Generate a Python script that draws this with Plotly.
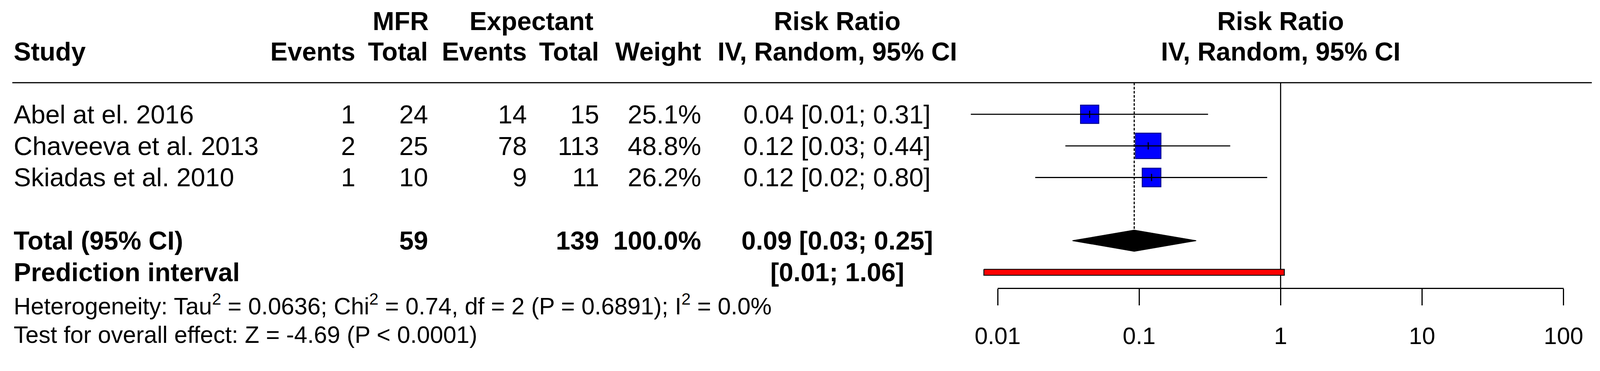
import math
import plotly.graph_objects as go

# ---------------- data ----------------
studies = ["Abel at el. 2016", "Chaveeva et al. 2013", "Skiadas et al. 2010"]
mfr_events = [1, 2, 1]
mfr_total = [24, 25, 10]
exp_events = [14, 78, 9]
exp_total = [15, 113, 11]
weight = [25.1, 48.8, 26.2]
rr = [0.0447, 0.1159, 0.1224]
rr_lo = [0.00646, 0.0301, 0.01843]
rr_hi = [0.307, 0.4405, 0.804]

overall = 0.0923
overall_lo = 0.0338
overall_hi = 0.253
pi_lo = 0.00799
pi_hi = 1.062
weight_total_label = "100.0%"

het_text = ("Heterogeneity: Tau<sup>2</sup> = 0.0636; Chi<sup>2</sup> = 0.74, "
            "df = 2 (P = 0.6891); I<sup>2</sup> = 0.0%")
test_text = "Test for overall effect: Z = -4.69 (P &lt; 0.0001)"

tick_vals = [0.01, 0.1, 1, 10, 100]
tick_text = ["0.01", "0.1", "1", "10", "100"]

# ---------------- layout constants ----------------
# The page is viewed through a window whose CSS width is 4096 px and the
# photograph is stretched to 4290 px; S converts target pixels to CSS pixels.
S = 4096 / 4290
OFF = 8                                  # default body margin of the page
W = 4096 - 2 * OFF
H = round(950 * S) - 2 * OFF
FONT = "Liberation Sans, Arial, Helvetica, sans-serif"
FS = 69.5 * S
FS_SMALL = 63.5 * S
LW = 3 * S


def P(p):
    """target picture pixel -> figure pixel"""
    return p * S - OFF


def L(v):
    """target length -> figure length"""
    return v * S


ROW0 = 306.5         # target pixel of the first study row
STEP = 84.75         # target pixels per row


def row_at(p_fig):
    return 1 + ((p_fig + OFF) / S - ROW0) / STEP


Y_TOP = row_at(0)
Y_BOT = row_at(H)

X_ONE = 3433.6       # target pixel of RR = 1
DEC = 379.3          # target pixels per decade
LOG_LEFT = ((0 + OFF) / S - X_ONE) / DEC
LOG_RIGHT = ((W + OFF) / S - X_ONE) / DEC

AXIS_T = 772         # target pixel of the RR axis line

# column positions (target pixels)
C_STUDY = 35
C_MFR_EV = 955
C_MFR_TOT = 1150
C_EXP_EV = 1415
C_EXP_TOT = 1609
C_WEIGHT = 1882
C_RR = 2245
C_EXPECTANT = 1425

study_rows = [1, 2, 3]
TOTAL_ROW = 5
PI_ROW = 6
HDR1 = -1.95
HDR2 = -0.98
AXIS_ROW = 1 + (AXIS_T - ROW0) / STEP

fig = go.Figure()

# ---------------- forest marks ----------------
SQ = 9.78 * S
fig.add_trace(go.Scatter(
    x=rr, y=study_rows, mode="markers", xaxis="x2", yaxis="y",
    marker=dict(symbol="square", size=[SQ * math.sqrt(w) for w in weight],
                color="#0000FF", opacity=1,
                line=dict(color="#00008B", width=2.5 * S)),
    hoverinfo="skip", showlegend=False, cliponaxis=False))

# CI lines
cx, cy = [], []
for lo, hi, r in zip(rr_lo, rr_hi, study_rows):
    cx += [lo, hi, None]
    cy += [r, r, None]
fig.add_trace(go.Scatter(x=cx, y=cy, mode="lines", xaxis="x2", yaxis="y",
                         line=dict(color="black", width=LW),
                         hoverinfo="skip", showlegend=False))

# small vertical tick at each estimate
tx, ty = [], []
for e, r in zip(rr, study_rows):
    tx += [e, e, None]
    ty += [r - 0.115, r + 0.115, None]
fig.add_trace(go.Scatter(x=tx, y=ty, mode="lines", xaxis="x2", yaxis="y",
                         line=dict(color="black", width=LW),
                         hoverinfo="skip", showlegend=False))

# reference line at RR = 1
fig.add_trace(go.Scatter(x=[1, 1], y=[0, AXIS_ROW], mode="lines",
                         xaxis="x2", yaxis="y",
                         line=dict(color="black", width=LW),
                         hoverinfo="skip", showlegend=False))

# dashed line at the overall estimate, then the diamond
DH = 28.5 / STEP
fig.add_trace(go.Scatter(x=[overall, overall], y=[0, TOTAL_ROW - DH], mode="lines",
                         xaxis="x2", yaxis="y",
                         line=dict(color="black", width=LW,
                                   dash=f"{L(7):.1f}px,{L(4):.1f}px"),
                         hoverinfo="skip", showlegend=False))
fig.add_trace(go.Scatter(
    x=[overall_lo, overall, overall_hi, overall, overall_lo],
    y=[TOTAL_ROW, TOTAL_ROW - DH, TOTAL_ROW, TOTAL_ROW + DH, TOTAL_ROW],
    mode="lines", fill="toself", fillcolor="black", xaxis="x2", yaxis="y",
    line=dict(color="black", width=2 * S), hoverinfo="skip", showlegend=False))

# prediction interval bar
PH = 8 / STEP
fig.add_trace(go.Scatter(
    x=[pi_lo, pi_hi, pi_hi, pi_lo, pi_lo],
    y=[PI_ROW - PH, PI_ROW - PH, PI_ROW + PH, PI_ROW + PH, PI_ROW - PH],
    mode="lines", fill="toself", fillcolor="#FF0000", xaxis="x2", yaxis="y",
    line=dict(color="black", width=2.5 * S), hoverinfo="skip", showlegend=False))

# invisible trace to anchor the visible RR axis
fig.add_trace(go.Scatter(x=[1], y=[0.5], mode="markers", xaxis="x3", yaxis="y2",
                         marker=dict(opacity=0), hoverinfo="skip", showlegend=False))

# ---------------- text ----------------
annotations = []


def ann(text, x_t, y, anchor="right", size=FS, bold=False):
    annotations.append(dict(
        text=f"<b>{text}</b>" if bold else text, x=P(x_t), y=y, xref="x", yref="y",
        xanchor=anchor, yanchor="middle", showarrow=False,
        font=dict(size=size, family=FONT, color="black")))


# headers
ann("MFR", C_MFR_TOT + 2, HDR1, "right", bold=True)
ann("Expectant", C_EXPECTANT, HDR1, "center", bold=True)
ann("Risk Ratio", C_RR, HDR1, "center", bold=True)
ann("Risk Ratio", X_ONE, HDR1, "center", bold=True)
ann("Study", C_STUDY, HDR2, "left", bold=True)
ann("Events", C_MFR_EV, HDR2, "right", bold=True)
ann("Total", C_MFR_TOT, HDR2, "right", bold=True)
ann("Events", C_EXP_EV, HDR2, "right", bold=True)
ann("Total", C_EXP_TOT, HDR2, "right", bold=True)
ann("Weight", C_WEIGHT, HDR2, "right", bold=True)
ann("IV, Random, 95% CI", C_RR, HDR2, "center", bold=True)
ann("IV, Random, 95% CI", X_ONE, HDR2, "center", bold=True)

# study rows
for i, r in enumerate(study_rows):
    ann(studies[i], C_STUDY, r, "left")
    ann(str(mfr_events[i]), C_MFR_EV, r)
    ann(str(mfr_total[i]), C_MFR_TOT, r)
    ann(str(exp_events[i]), C_EXP_EV, r)
    ann(str(exp_total[i]), C_EXP_TOT, r)
    ann(f"{weight[i]:.1f}%", C_WEIGHT, r)
    ann(f"{rr[i]:.2f} [{rr_lo[i]:.2f}; {rr_hi[i]:.2f}]", C_RR, r, "center")

# total row
ann("Total (95% CI)", C_STUDY, TOTAL_ROW, "left", bold=True)
ann(str(sum(mfr_total)), C_MFR_TOT, TOTAL_ROW, bold=True)
ann(str(sum(exp_total)), C_EXP_TOT, TOTAL_ROW, bold=True)
ann(weight_total_label, C_WEIGHT, TOTAL_ROW, bold=True)
ann(f"{overall:.2f} [{overall_lo:.2f}; {overall_hi:.2f}]", C_RR, TOTAL_ROW, "center", bold=True)

# prediction interval row
ann("Prediction interval", C_STUDY, PI_ROW, "left", bold=True)
ann(f"[{pi_lo:.2f}; {pi_hi:.2f}]", C_RR, PI_ROW, "center", bold=True)

# footer
ann(het_text, C_STUDY, 7.02, "left", size=FS_SMALL)
ann(test_text, C_STUDY, 7.97, "left", size=FS_SMALL)

# ---------------- layout ----------------
shapes = [dict(type="line", xref="x", yref="y", x0=P(33), x1=P(4268), y0=0, y1=0,
               line=dict(color="black", width=LW), layer="below")]

fig.update_layout(
    width=W, height=H, margin=dict(l=0, r=0, t=0, b=0, autoexpand=False),
    paper_bgcolor="white", plot_bgcolor="rgba(0,0,0,0)",
    showlegend=False,
    xaxis=dict(domain=[0, 1], range=[0, W], visible=False, automargin=False),
    xaxis2=dict(type="log", range=[LOG_LEFT, LOG_RIGHT], overlaying="x",
                anchor="y", visible=False, automargin=False),
    yaxis=dict(domain=[0, 1], range=[Y_BOT, Y_TOP], visible=False, automargin=False),
    xaxis3=dict(type="log", range=[-2, 2],
                domain=[P(X_ONE - 2 * DEC) / W, P(X_ONE + 2 * DEC) / W],
                anchor="y2", tickvals=tick_vals, ticktext=tick_text,
                ticks="outside", ticklen=L(44), tickwidth=LW, tickcolor="black",
                showline=True, linewidth=LW, linecolor="black",
                showgrid=False, zeroline=False, automargin=False,
                tickfont=dict(size=FS_SMALL, family=FONT, color="black"),
                ticklabelstandoff=26),
    yaxis2=dict(domain=[(H - P(AXIS_T)) / H, 1], range=[0, 1], anchor="x3",
                visible=False, automargin=False),
    annotations=annotations,
    shapes=shapes,
)

fig.write_html("out.html")
